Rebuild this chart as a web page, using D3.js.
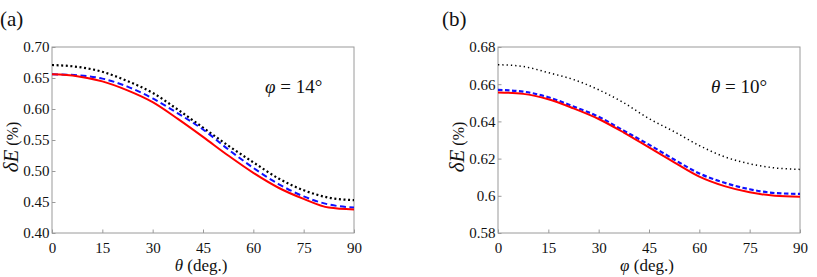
<!DOCTYPE html>
<html>
<head>
<meta charset="utf-8">
<script src="https://cdn.jsdelivr.net/npm/d3@7"></script>
<style>
  body { margin: 0; background: #fff; }
</style>
</head>
<body>
<div id="chart"></div>
<script>
// angles (deg.) shared by both panels
var angles = [0, 7.5, 15, 22.5, 30, 37.5, 45, 52.5, 60, 67.5, 75, 82.5, 90];
var xTicks = [0, 15, 30, 45, 60, 75, 90];

// panel (a): deltaE vs theta, phi = 14 deg
var aRed   = [0.656, 0.653, 0.6445, 0.630, 0.611, 0.584, 0.555, 0.525, 0.497, 0.473, 0.455, 0.441, 0.4378];
var aBlue  = [0.656, 0.6545, 0.649, 0.636, 0.617, 0.593, 0.567, 0.535, 0.505, 0.479, 0.459, 0.446, 0.441];
var aBlack = [0.671, 0.668, 0.660, 0.645, 0.626, 0.599, 0.570, 0.541, 0.514, 0.488, 0.469, 0.457, 0.453];
var aTicks = [0.40, 0.45, 0.50, 0.55, 0.60, 0.65, 0.70];

// panel (b): deltaE vs phi, theta = 10 deg
var bRed   = [0.6556, 0.6548, 0.6519, 0.647, 0.6413, 0.634, 0.626, 0.618, 0.6103, 0.6052, 0.6019, 0.6000, 0.5995];
var bBlue  = [0.6569, 0.656, 0.653, 0.648, 0.6425, 0.635, 0.6275, 0.6195, 0.612, 0.607, 0.6035, 0.6015, 0.601];
var bBlack = [0.6705, 0.6695, 0.6662, 0.6625, 0.657, 0.650, 0.6415, 0.6345, 0.627, 0.621, 0.6172, 0.6150, 0.6142];
var bTicks = [0.58, 0.60, 0.62, 0.64, 0.66, 0.68];

var serif = '"Liberation Serif", "Times New Roman", "DejaVu Serif", serif';

var svg = d3.select('#chart').append('svg')
  .attr('width', 817)
  .attr('height', 277)
  .attr('font-family', serif);

var frameColor = '#9a9a9a';

function panel(opt) {
  var x = d3.scaleLinear().domain([0, 90]).range([opt.left, opt.right]);
  var y = d3.scaleLinear().domain(opt.yDomain).range([233, 47]);

  var g = svg.append('g');

  // bottom axis, ticks pointing inward
  g.append('g')
    .attr('transform', 'translate(0,233)')
    .call(d3.axisBottom(x).tickValues(xTicks).tickSizeInner(-3.5).tickSizeOuter(0).tickPadding(9));

  g.append('g')
    .attr('transform', 'translate(' + opt.left + ',0)')
    .call(d3.axisLeft(y).tickValues(opt.yTicks).tickFormat(opt.fmt).tickSizeInner(-3.5).tickSizeOuter(0).tickPadding(2.5));

  g.selectAll('.domain').remove();
  g.selectAll('.tick line').attr('stroke', frameColor);
  g.selectAll('.tick text')
    .attr('fill', '#111')
    .attr('font-family', serif)
    .attr('font-size', 15);

  g.append('rect')
    .attr('x', opt.left)
    .attr('y', 47)
    .attr('width', opt.right - opt.left)
    .attr('height', 186)
    .attr('fill', 'none')
    .attr('stroke', frameColor)
    .attr('stroke-width', 1);

  var line = d3.line()
    .x(function(d, i) { return x(angles[i]); })
    .y(function(d) { return y(d); })
    .curve(d3.curveMonotoneX);

  opt.series.forEach(function(s) {
    g.append('path')
      .datum(s.values)
      .attr('d', line)
      .attr('fill', 'none')
      .attr('stroke', s.color)
      .attr('stroke-width', s.width)
      .attr('stroke-dasharray', s.dash || null);
  });

  // axis titles
  var cx = (opt.left + opt.right) / 2;
  var xt = g.append('text')
    .attr('x', cx - 2)
    .attr('y', 271)
    .attr('text-anchor', 'middle')
    .attr('font-family', serif)
    .attr('font-size', 17)
    .attr('fill', '#111');
  xt.append('tspan').attr('font-style', 'italic').text(opt.xSym);
  xt.append('tspan').text(' (deg.)');

  var yt = g.append('text')
    .attr('transform', 'translate(' + (opt.left - 34) + ',147) rotate(-90)')
    .attr('text-anchor', 'middle')
    .attr('font-family', serif)
    .attr('fill', '#111');
  yt.append('tspan').attr('font-style', 'italic').attr('font-size', 21).text('δE');
  yt.append('tspan').attr('font-size', 16).text(' (%)');

  // annotation
  var nt = g.append('text')
    .attr('x', opt.noteX)
    .attr('y', 93)
    .attr('font-family', serif)
    .attr('font-size', 19)
    .attr('fill', '#111');
  nt.append('tspan').attr('font-style', 'italic').text(opt.noteSym);
  nt.append('tspan').text(' = ' + opt.noteVal + '°');

  // panel letter
  g.append('text')
    .attr('x', opt.labelX)
    .attr('y', 26)
    .attr('font-family', serif)
    .attr('font-size', 21)
    .attr('fill', '#111')
    .text(opt.label);
}

panel({
  left: 52, right: 354,
  yDomain: [0.40, 0.70], yTicks: aTicks,
  fmt: d3.format('.2f'),
  xSym: 'θ', noteSym: 'φ', noteVal: 14, noteX: 265,
  label: '(a)', labelX: 0,
  series: [
    { values: aBlack, color: '#000', width: 2.2, dash: '2,2.6' },
    { values: aBlue, color: '#1010ff', width: 2, dash: '6,3.5' },
    { values: aRed, color: '#ff0000', width: 2 }
  ]
});

panel({
  left: 498, right: 800,
  yDomain: [0.58, 0.68], yTicks: bTicks,
  fmt: function(d) { return Math.abs(d - 0.6) < 1e-9 ? '0.6' : d3.format('.2f')(d); },
  xSym: 'φ', noteSym: 'θ', noteVal: 10, noteX: 711,
  label: '(b)', labelX: 442,
  series: [
    { values: bBlack, color: '#000', width: 1.5, dash: '1.3,3' },
    { values: bBlue, color: '#1010ff', width: 2.2, dash: '4.5,2.5' },
    { values: bRed, color: '#ff0000', width: 2 }
  ]
});
</script>
</body>
</html>
